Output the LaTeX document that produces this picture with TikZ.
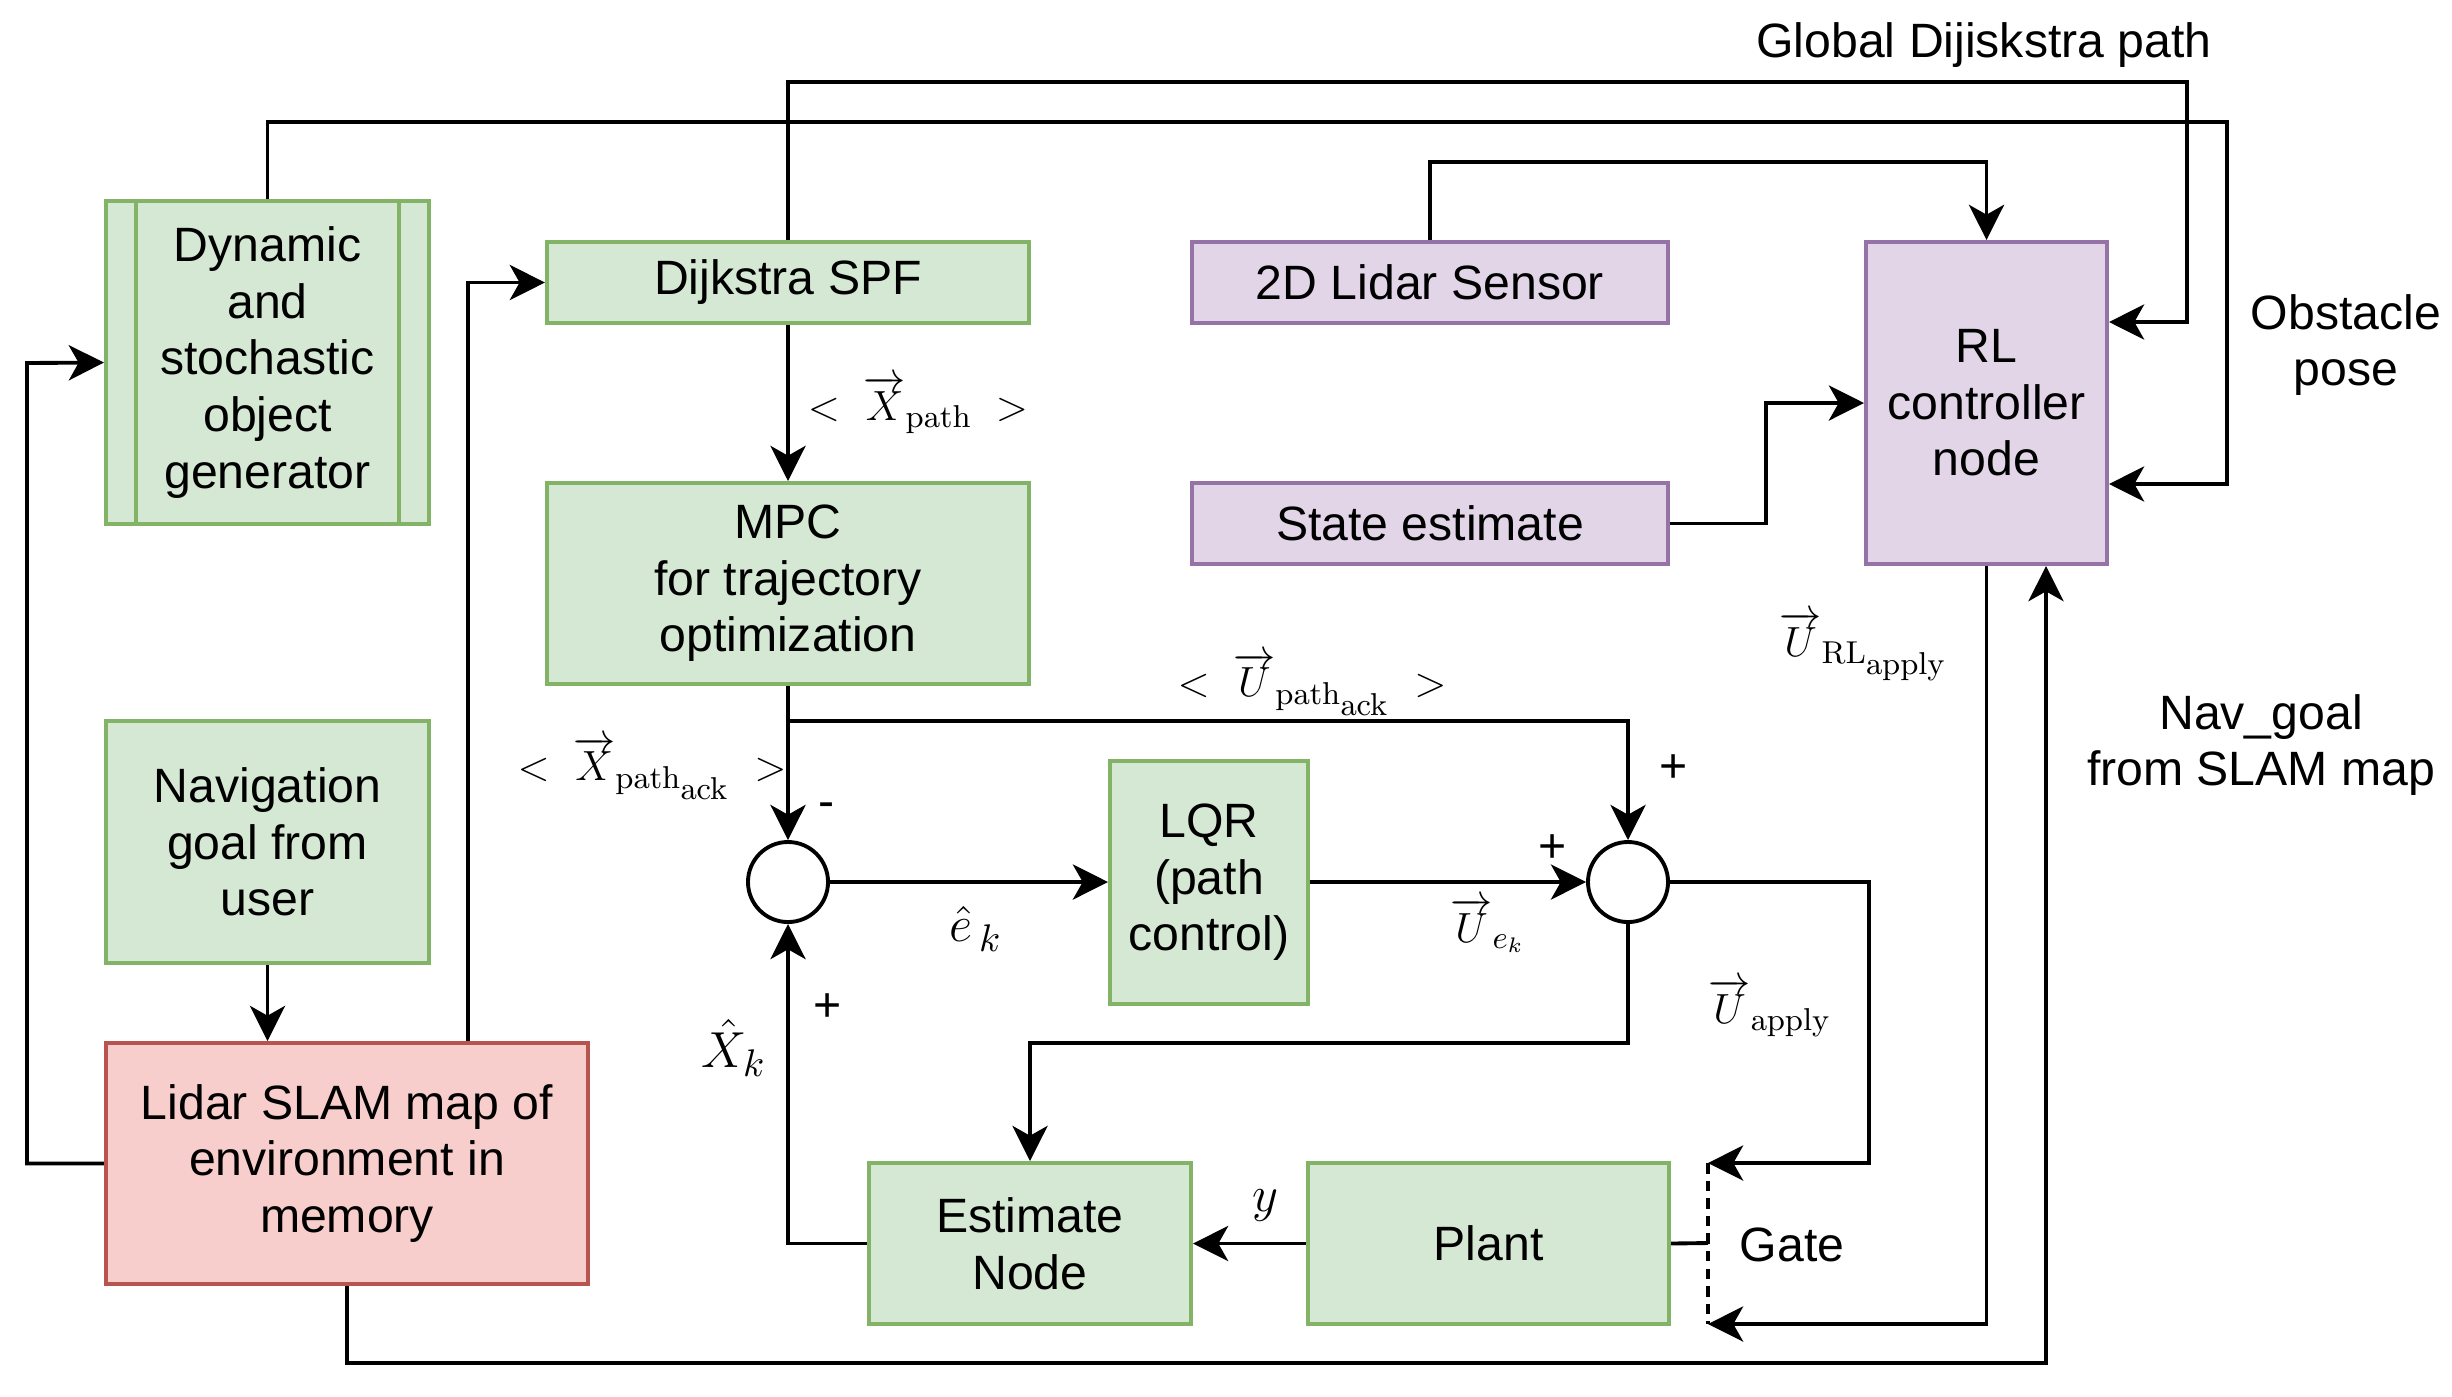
\documentclass[tikz,border=0pt]{standalone}
\usepackage{amsmath}
\usepackage{amssymb}
\usepackage[no-math]{fontspec}
\setmainfont{Liberation Sans}
\usetikzlibrary{positioning,calc,arrows.meta}

\definecolor{gfill}{HTML}{D5E8D4}
\definecolor{gline}{HTML}{82B366}
\definecolor{pfill}{HTML}{E1D5E7}
\definecolor{pline}{HTML}{9673A6}
\definecolor{rfill}{HTML}{F8CECC}
\definecolor{rline}{HTML}{B85450}

\begin{document}
\begin{tikzpicture}[x=0.01cm, y=-0.01cm, line width=1.1pt,
	font=\fontsize{13.7}{16.1}\selectfont,
	arr/.style={-{Stealth[length=10pt,width=10pt,inset=2.8pt]}},
	box/.style={draw, rectangle, align=center, inner sep=2pt},
	gbox/.style={box, draw=gline, fill=gfill},
	pbox/.style={box, draw=pline, fill=pfill},
	rbox/.style={box, draw=rline, fill=rfill},
	sumc/.style={draw, circle, fill=white, minimum size=0.8cm, inner sep=0pt},
	lbl/.style={font=\fontsize{13}{15}\selectfont, inner sep=0pt}]
				\useasboundingbox (0,0) rectangle (2452,1396);
				% blocks
				\node[gbox, minimum width=3.23cm, minimum height=3.23cm] (dyn) at (267.5, 362.5) {Dynamic\\and\\stochastic\\object\\generator};
				\draw[gline] ([xshift=0.32cm]dyn.north west) -- ([xshift=0.32cm]dyn.south west);
				\draw[gline] ([xshift=-0.32cm]dyn.north east) -- ([xshift=-0.32cm]dyn.south east);
				\node[gbox, minimum width=4.82cm, minimum height=0.81cm] (spf) at (788, 282.5) {Dijkstra SPF};
				\node[gbox, minimum width=4.82cm, minimum height=2.01cm] (mpc) at (788, 583.5) {MPC\\for trajectory\\optimization};
				\node[pbox, minimum width=4.76cm, minimum height=0.81cm] (lidar) at (1430, 282.5) {2D Lidar Sensor};
				\node[pbox, minimum width=4.76cm, minimum height=0.81cm] (state) at (1430, 523.5) {State estimate};
				\node[pbox, minimum width=2.41cm, minimum height=3.22cm] (rl) at (1986.5, 403) {RL\\controller\\node};
				\node[gbox, minimum width=3.23cm, minimum height=2.42cm] (navg) at (267.5, 842) {Navigation\\goal from\\user};
				\node[rbox, minimum width=4.82cm, minimum height=2.41cm] (slam) at (347, 1163.5) {Lidar SLAM map of\\environment in\\memory};
				\node[gbox, minimum width=1.98cm, minimum height=2.43cm] (lqr) at (1209, 882.5) {LQR\\(path\\control)};
				\node[gbox, minimum width=3.22cm, minimum height=1.61cm] (est) at (1030, 1243.5) {Estimate\\Node};
				\node[gbox, minimum width=3.61cm, minimum height=1.61cm] (plant) at (1488.5, 1243.5) {Plant};
				\node[sumc] (sum1) at (788, 882) {};
				\node[sumc] (sum2) at (1628, 882) {};
				\coordinate (gtop) at (1708, 1163);
				\coordinate (gmid) at (1708, 1243);
				\coordinate (gbot) at (1708, 1324);
				% texts
				\node (glob) at (1984, 45) {Global Dijiskstra path};
				\node[align=center] (obst) at (2346, 345) {Obstacle\\pose};
				\node[align=center] (navt) at (2261, 745) {Nav\_goal\\from SLAM map};
				\node (gate) at (1792, 1245) {Gate};
				\node[lbl] (lxp) at (918, 405) {$<\;\overrightarrow{X}_{\mathrm{path}}\;>$};
				\node[lbl] (lxa) at (652, 768) {$<\;\overrightarrow{X}_{\mathrm{path}_{\scriptstyle\mathrm{ack}}}\;>$};
				\node[lbl] (lua) at (1312, 684) {$<\;\overrightarrow{U}_{\mathrm{path}_{\scriptstyle\mathrm{ack}}}\;>$};
				\node[lbl, font=\fontsize{15}{17}\selectfont] (lek) at (976, 929) {$\hat{e}_{\,k}$};
				\node[lbl] (luek) at (1488, 925) {$\overrightarrow{U}_{e_k}$};
				\node[lbl] (luap) at (1770, 1008) {$\overrightarrow{U}_{\mathrm{apply}}$};
				\node[lbl] (lurl) at (1864, 646) {$\overrightarrow{U}_{\mathrm{RL}_{\scriptstyle\mathrm{apply}}}$};
				\node[lbl, font=\fontsize{15}{17}\selectfont] (lxk) at (734, 1048) {$\hat{X}_{k}$};
				\node[lbl, font=\fontsize{15}{17}\selectfont] (ly) at (1265, 1205) {$y$};
				\node (m1) at (827, 810) {-};
				\node (p1) at (828, 1008) {+};
				\node (p2) at (1674, 769) {+};
				\node (p3) at (1553, 849) {+};
				% connectors
				\draw[arr] (dyn.north) |- (2227,122) |- (rl.east |- 0,484);
				\draw[arr] (spf.north) |- (2187,82) |- (rl.east |- 0,322);
				\draw[arr] (slam.west) -| (27,363) -- (dyn.west);
				\draw[arr] (navg.south) -- (navg.south |- slam.north);
				\draw[arr] (slam.north -| 468,0) |- (spf.west);
				\draw[arr] (spf.south) -- (mpc.north);
				\draw[arr] (mpc.south) -- (sum1.north);
				\draw[arr] (mpc.south |- 0,721) -| (sum2.north);
				\draw[arr] (sum1.east) -- (lqr.west |- sum1.east);
				\draw[arr] (lqr.east |- sum2.west) -- (sum2.west);
				\draw[arr] (sum2.east) -| (1869,1163) -- (gtop);
				\draw[arr] (sum2.south) |- (est.north |- 0,1043) -- (est.north);
				\draw[arr] (plant.west) -- (est.east);
				\draw[arr] (est.west) -| (sum1.south);
				\draw (plant.east) -- (gmid);
				\draw[dash pattern=on 3pt off 2pt] (gtop) -- (gbot);
				\draw[arr] (rl.south) |- (gbot);
				\draw[arr] (slam.south) |- (2046,1363) -- (rl.south -| 2046,0);
				\draw[arr] (lidar.north) |- (rl.north |- 0,162) -- (rl.north);
				\draw[arr] (state.east) -| (1766,403) -- (rl.west);
\end{tikzpicture}
\end{document}
